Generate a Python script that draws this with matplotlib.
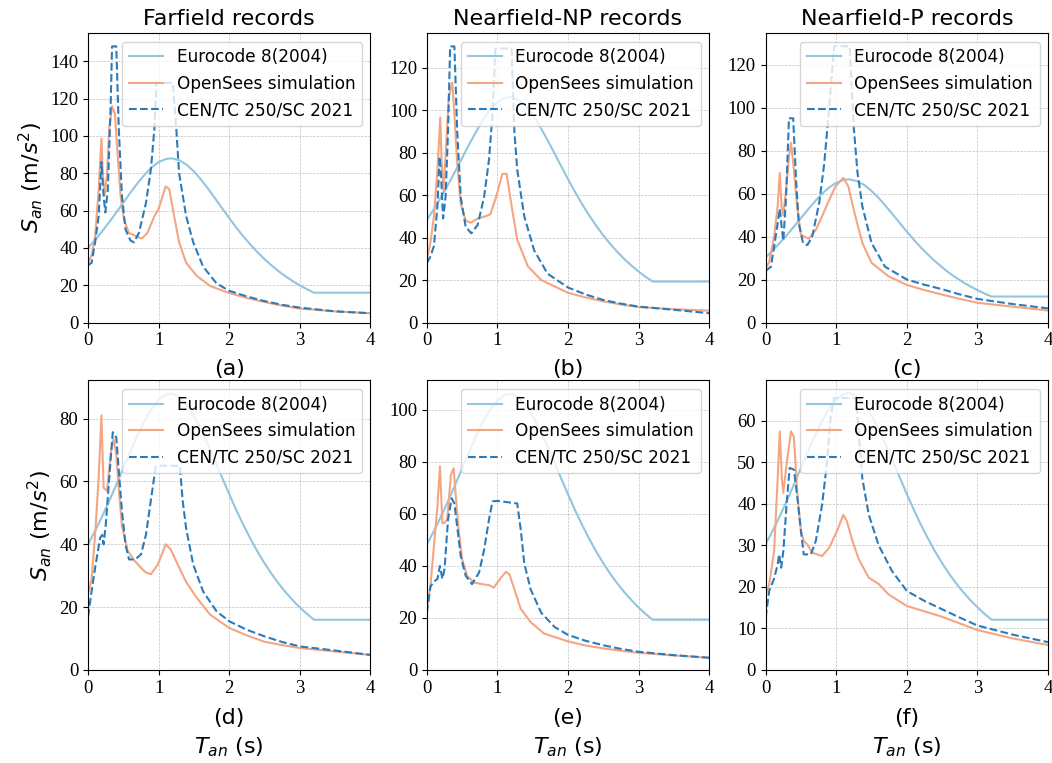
import matplotlib
matplotlib.use("Agg")
import matplotlib.pyplot as plt
from matplotlib.ticker import MultipleLocator

# Eurocode 8 (2004) curve, read at these periods
t_ec8 = [0, 0.1, 0.2, 0.3, 0.4, 0.5, 0.6, 0.7, 0.8, 0.9, 1.0, 1.1, 1.17, 1.2, 1.3,
         1.4, 1.5, 1.6, 1.7, 1.8, 1.9, 2.0, 2.1, 2.2, 2.3, 2.4, 2.5, 2.6, 2.7, 2.8,
         2.9, 3.0, 3.1, 3.2, 4.0]
ec8_far = [40, 44.3, 48.9, 53.8, 59.0, 64.3, 69.6, 74.6, 79.2, 83.1, 86.0, 87.6, 88.0,
           87.9, 86.8, 84.5, 81.0, 76.6, 71.7, 66.5, 61.2, 56.0, 50.9, 46.2, 41.8,
           37.7, 34.0, 30.6, 27.5, 24.7, 22.2, 19.9, 17.9, 16.0, 16.0]
ec8_np = [48.3, 53.4, 59.0, 64.9, 71.1, 77.5, 83.9, 90.0, 95.6, 100.3, 103.7, 105.7,
          106.2, 106.1, 104.8, 101.9, 97.7, 92.4, 86.5, 80.2, 73.8, 67.5, 61.4, 55.7,
          50.4, 45.5, 41.0, 36.9, 33.2, 29.8, 26.8, 24.0, 21.5, 19.3, 19.3]
ec8_p = [30.3, 33.5, 37.0, 40.7, 44.6, 48.6, 52.6, 56.4, 59.9, 62.9, 65.0, 66.3, 66.6,
         66.5, 65.7, 63.9, 61.2, 58.0, 54.2, 50.3, 46.3, 42.3, 38.5, 34.9, 31.6, 28.5,
         25.7, 23.1, 20.8, 18.7, 16.8, 15.1, 13.5, 12.1, 12.1]

# (a)
t_a_cen = [0, 0.05, 0.1, 0.15, 0.19, 0.22, 0.245, 0.28, 0.32, 0.34, 0.4, 0.435, 0.48,
           0.53, 0.6, 0.65, 0.72, 0.82, 0.89, 0.94, 0.97, 1.2, 1.25, 1.29, 1.39, 1.49,
           1.63, 1.82, 2.0, 2.25, 2.5, 2.75, 3.0, 3.5, 4.0]
a_cen = [30.7, 32, 43, 57, 86, 68, 59, 71, 116, 148, 148, 104, 68, 50, 44, 43, 48, 64,
         82, 104, 128.5, 128.5, 104, 80, 57, 43, 30, 21, 17, 14, 11.5, 9.5, 8, 6, 5]
t_a_os = [0, 0.05, 0.1, 0.15, 0.19, 0.21, 0.235, 0.27, 0.3, 0.34, 0.38, 0.41, 0.46,
          0.51, 0.58, 0.67, 0.76, 0.84, 0.94, 1.0, 1.1, 1.15, 1.22, 1.29, 1.39, 1.54,
          1.73, 2.0, 2.25, 2.5, 2.75, 3.0, 3.5, 4.0]
a_os = [32, 36, 46, 71, 98.6, 79, 68, 80, 104, 116, 112, 95, 68, 55, 48, 46.5, 45, 48,
        57, 61, 73, 71.5, 57, 43, 32, 25, 19.6, 15.8, 13.2, 11, 9.1, 7.5, 6, 5]

# (b)
t_b_cen = [0, 0.05, 0.1, 0.15, 0.18, 0.2, 0.23, 0.265, 0.3, 0.33, 0.39, 0.43, 0.48,
           0.55, 0.63, 0.72, 0.81, 0.88, 0.93, 0.97, 1.2, 1.24, 1.28, 1.38, 1.52, 1.71,
           2.0, 2.25, 2.5, 2.75, 3.0, 3.5, 4.0]
b_cen = [28, 31, 36, 55, 78, 70, 49, 59, 90, 130, 130, 90, 59, 45, 42, 46, 59, 76.5,
         98, 129, 129, 90, 72, 50, 34, 23, 16.5, 13.2, 10.6, 8.9, 7.5, 6, 4.4]
t_b_os = [0, 0.05, 0.1, 0.15, 0.19, 0.21, 0.235, 0.265, 0.31, 0.36, 0.39, 0.43, 0.48,
          0.55, 0.62, 0.72, 0.83, 0.9, 0.98, 1.07, 1.13, 1.2, 1.28, 1.43, 1.62, 2.0,
          2.25, 2.5, 2.75, 3.0, 3.5, 4.0]
b_os = [30, 37.5, 50, 72, 96.5, 75, 62, 78, 106, 113, 98, 75, 56, 48, 47, 49, 50, 51,
        59, 70, 70, 55, 39, 26.5, 20, 14, 11.8, 10, 8.5, 7.3, 6.3, 5.6]

# (c)
t_c_cen = [0, 0.075, 0.12, 0.17, 0.2, 0.225, 0.25, 0.29, 0.33, 0.39, 0.43, 0.47, 0.53,
           0.59, 0.66, 0.76, 0.83, 0.9, 0.97, 1.19, 1.25, 1.3, 1.37, 1.5, 1.69, 2.0,
           2.25, 2.5, 2.75, 3.0, 3.5, 4.0]
c_cen = [24, 26, 35.5, 46, 53, 45, 38, 59, 95, 95, 66.5, 46, 37, 36, 40, 56, 74, 100,
         128.5, 128.5, 90, 70, 54, 37, 26, 20, 17.6, 15.5, 13.1, 11, 8.6, 6.6]
t_c_os = [0, 0.05, 0.12, 0.17, 0.2, 0.225, 0.25, 0.29, 0.33, 0.36, 0.4, 0.45, 0.5,
          0.54, 0.61, 0.71, 0.8, 0.9, 0.99, 1.1, 1.17, 1.27, 1.37, 1.5, 1.74, 2.0,
          2.25, 2.5, 2.75, 3.0, 3.5, 4.0]
c_os = [25.4, 28, 40, 54, 69.6, 54, 50, 62, 77, 83.6, 71, 52.5, 41, 40, 39, 43, 49.5,
        57, 63.4, 67.3, 63.4, 49.5, 37, 27.8, 21.5, 17.5, 15.1, 13, 11, 9.2, 7.4, 5.6]

# (d)
t_d_cen = [0, 0.05, 0.1, 0.17, 0.2, 0.22, 0.25, 0.3, 0.35, 0.4, 0.435, 0.48, 0.53,
           0.58, 0.67, 0.75, 0.82, 0.89, 0.96, 1.3, 1.34, 1.39, 1.49, 1.63, 1.82, 2.0,
           2.25, 2.5, 2.75, 3.0, 3.5, 4.0]
d_cen = [17, 25, 32.5, 42, 43, 40, 46, 61, 75.7, 74, 63.5, 50.7, 40, 35.2, 35.2, 36.8,
         43, 54, 65, 65, 54, 45, 33.6, 25, 18.7, 15.5, 12.8, 10.7, 8.9, 7.5, 6.2, 4.8]
t_d_os = [0, 0.05, 0.1, 0.15, 0.19, 0.22, 0.27, 0.32, 0.36, 0.4, 0.43, 0.48, 0.56,
          0.65, 0.75, 0.82, 0.89, 0.99, 1.1, 1.17, 1.27, 1.39, 1.54, 1.73, 2.0, 2.25,
          2.5, 2.75, 3.0, 3.5, 4.0]
d_os = [24, 29, 43, 61, 81, 58, 57, 68.8, 73.6, 68.8, 59, 46, 38, 35, 32.5, 31, 30.5,
        33.6, 40, 38.4, 33.6, 28, 23, 17.6, 13.4, 11, 9, 7.9, 7, 5.9, 4.8]

# (e)
t_e_cen = [0, 0.05, 0.1, 0.15, 0.185, 0.22, 0.25, 0.3, 0.35, 0.39, 0.43, 0.48, 0.55,
           0.64, 0.74, 0.81, 0.88, 0.93, 1.0, 1.28, 1.33, 1.38, 1.47, 1.62, 1.81, 2.0,
           2.25, 2.5, 2.75, 3.0, 3.5, 4.0]
e_cen = [22, 32, 34, 35, 40, 35, 38.7, 57.8, 66, 64, 55, 43.8, 36.2, 33, 37.5, 46,
         57.8, 64.8, 65, 64, 54, 41, 31, 22, 16.5, 13.5, 11.2, 9.5, 8.1, 7, 5.7, 4.7]
t_e_os = [0, 0.05, 0.1, 0.15, 0.185, 0.22, 0.25, 0.29, 0.34, 0.38, 0.41, 0.45, 0.5,
          0.57, 0.67, 0.78, 0.88, 0.95, 1.05, 1.12, 1.17, 1.24, 1.33, 1.47, 1.66, 2.0,
          2.25, 2.5, 2.75, 3.0, 3.5, 4.0]
e_os = [23.5, 32, 47.6, 63, 78.3, 56.5, 56.5, 58, 75, 77.5, 66.7, 54, 42.5, 36.2, 33.6,
        33, 32.6, 31.7, 35.5, 37.7, 36.8, 31, 23.5, 18.4, 14, 11, 9.4, 8.3, 7.4, 6.6,
        5.6, 4.7]

# (f)
t_f_cen = [0, 0.05, 0.12, 0.17, 0.19, 0.22, 0.25, 0.3, 0.34, 0.4, 0.45, 0.5, 0.54,
           0.64, 0.71, 0.8, 0.87, 0.92, 0.97, 1.28, 1.37, 1.46, 1.6, 1.79, 2.0, 2.25,
           2.5, 2.75, 3.0, 3.5, 4.0]
f_cen = [12.6, 19, 22, 25.4, 27.8, 24.6, 28.6, 40.6, 48.6, 48.2, 41.4, 33.4, 27.8,
         27.8, 31, 39.8, 50, 60.6, 65.4, 65.4, 46, 37.4, 30, 23.8, 19, 16.6, 14.6, 12.6,
         10.7, 8.5, 6.7]
t_f_os = [0, 0.05, 0.12, 0.17, 0.2, 0.23, 0.25, 0.3, 0.36, 0.4, 0.45, 0.5, 0.54, 0.59,
          0.66, 0.73, 0.8, 0.9, 1.01, 1.1, 1.15, 1.23, 1.32, 1.46, 1.6, 1.74, 2.0, 2.25,
          2.5, 2.75, 3.0, 3.5, 4.0]
f_os = [18, 20.6, 28.6, 46, 57.4, 46, 42.6, 50, 57.4, 56, 42, 33.4, 31, 30.2, 28.2,
        27.8, 27.4, 29.4, 33.4, 37.3, 35.8, 31, 26.6, 22.2, 20.7, 18.2, 15.4, 14.1, 12.8,
        11.2, 9.6, 7.6, 6]

titles = ["Farfield records", "Nearfield-NP records", "Nearfield-P records"]
panel_labels = ["(a)", "(b)", "(c)", "(d)", "(e)", "(f)"]
y_steps = [20, 20, 20, 20, 20, 10]

panels = [
    (ec8_far, t_a_os, a_os, t_a_cen, a_cen),
    (ec8_np, t_b_os, b_os, t_b_cen, b_cen),
    (ec8_p, t_c_os, c_os, t_c_cen, c_cen),
    (ec8_far, t_d_os, d_os, t_d_cen, d_cen),
    (ec8_np, t_e_os, e_os, t_e_cen, e_cen),
    (ec8_p, t_f_os, f_os, t_f_cen, f_cen),
]

C_EC8 = "#92c5de"
C_OS = "#f4a582"
C_CEN = "#2b7bba"


def main():
    plt.rcParams["font.family"] = ["DejaVu Sans"]
    fig, axes = plt.subplots(2, 3, figsize=(10.52, 7.63), dpi=100)
    fig.subplots_adjust(left=0.0837, right=0.9962, bottom=0.1219, top=0.9567,
                        wspace=0.2, hspace=0.2)

    for i, ax in enumerate(axes.flat):
        ec8, t_os, os_vals, t_cen, cen = panels[i]
        ax.plot(t_ec8, ec8, color=C_EC8, lw=1.5, label="Eurocode 8(2004)")
        ax.plot(t_os, os_vals, color=C_OS, lw=1.5, label="OpenSees simulation")
        ax.plot(t_cen, cen, color=C_CEN, lw=1.5, ls="--", label="CEN/TC 250/SC 2021")

        ax.set_xlim(0, 4)
        ax.set_ylim(bottom=0)
        ax.yaxis.set_major_locator(MultipleLocator(y_steps[i]))
        ax.grid(True, ls="--", lw=0.5, color="#b0b0b0", alpha=0.8)
        ax.tick_params(labelsize=13.5, labelfontfamily="Liberation Serif")
        ax.legend(loc="upper right", fontsize=12.2)

        if i < 3:
            ax.set_title(titles[i], fontsize=16)
            ax.set_xlabel(panel_labels[i], fontsize=16, labelpad=7)
        else:
            ax.set_xlabel(panel_labels[i] + "\n$T_{an}$ (s)", fontsize=16, labelpad=8,
                          linespacing=1.4)
        if i % 3 == 0:
            ax.set_ylabel("$S_{an}$ (m/$s^2$)", fontsize=16)

    plt.savefig("out.png", dpi=100)
    plt.close()


main()
